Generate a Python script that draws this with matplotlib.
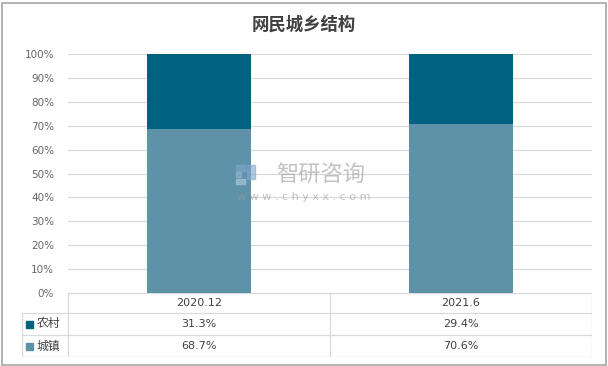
import numpy as np
import matplotlib
matplotlib.use('Agg')
import matplotlib.pyplot as plt
from matplotlib.patches import Rectangle

plt.rcParams['font.family'] = ['Noto Sans CJK SC', 'DejaVu Sans']

# data
categories = ['2020.12', '2021.6']
rural = [31.3, 29.4]     # 农村
urban = [68.7, 70.6]     # 城镇
series_names = ['农村', '城镇']
c_rural = '#00627F'
c_urban = '#5E92A9'
grid_c = '#D9D9D9'

W, H = 608, 366
fig = plt.figure(figsize=(W / 100, H / 100), dpi=100)

# outer border
fig.add_artist(Rectangle((1.5 / W, 1.5 / H), (W - 4) / W, (H - 4) / H, transform=fig.transFigure,
                         fill=False, ec='#A6A6A6', lw=1.2))

fig.text(0.5, 1 - 25 / H, '网民城乡结构', ha='center', va='center', fontsize=12.5,
         fontweight='bold', color='#404040')

# plot area
x0, x1, ytop, ybot = 68, 592, 54, 293
ax = fig.add_axes([x0 / W, (H - ybot) / H, (x1 - x0) / W, (ybot - ytop) / H])
x = np.arange(len(categories))
ax.bar(x, urban, width=0.395, color=c_urban, zorder=2)
ax.bar(x, rural, width=0.395, bottom=urban, color=c_rural, zorder=2)
ax.set_xlim(-0.5, len(categories) - 0.5)
ax.set_ylim(0, 100)
ax.set_yticks(np.arange(0, 101, 10))
ax.set_yticklabels([f'{v}%' for v in range(0, 101, 10)], fontsize=7.5, color='#666666',
                   family=['DejaVu Sans'])
ax.tick_params(axis='y', length=0, pad=10)
ax.set_xticks([])
for s in ax.spines.values():
    s.set_visible(False)
ax.yaxis.grid(True, color=grid_c, lw=0.9, zorder=0)

# watermark
fig.text(321 / W, 1 - 175 / H, '智研咨询', ha='center', va='center', fontsize=16,
         color='#9A9A9A', alpha=0.6)
fig.text(304 / W, 1 - 197 / H, 'w w w . c h y x x . c o m', ha='center', va='center', fontsize=8,
         color='#9A9A9A', alpha=0.6, family=['DejaVu Sans'])
for (bx, by, bw, bh, bc) in [(236, 165, 9, 6, '#7FA7C9'), (236, 172, 5, 5, '#9AB8D3'),
                             (247, 165, 8, 14, '#7FA7C9'), (236, 179, 9, 5, '#B5C9DA')]:
    fig.add_artist(Rectangle((bx / W, 1 - (by + bh) / H), bw / W, bh / H,
                             transform=fig.transFigure, color=bc, alpha=0.6))

# data table below
tx0, tx1, ty0, ty1 = 22, 592, 293, 357
tab = fig.add_axes([tx0 / W, (H - ty1) / H, (tx1 - tx0) / W, (ty1 - ty0) / H])
tab.set_xlim(tx0, tx1)
tab.set_ylim(ty1, ty0)
tab.axis('off')
rows_y = [293, 313, 335, 357]
col_x = [x0, (x0 + x1) / 2, x1]
lc = '#D9D9D9'
tab.plot([x0, x0], [293, 357], color=lc, lw=0.9)
tab.plot([col_x[1], col_x[1]], [293, 357], color=lc, lw=0.9)
tab.plot([x1, x1], [293, 357], color=lc, lw=0.9)
tab.plot([tx0, tx0], [313, 357], color=lc, lw=0.9)
tab.plot([x0, x1], [293, 293], color=lc, lw=0.9)
for yy in rows_y[1:]:
    tab.plot([tx0, x1], [yy, yy], color=lc, lw=0.9)
for i, c in enumerate(categories):
    cx = (col_x[i] + col_x[i + 1]) / 2
    tab.text(cx, 303, c, ha='center', va='center', fontsize=8, color='#404040',
             family=['DejaVu Sans'])
    tab.text(cx, 324, f'{rural[i]}%', ha='center', va='center', fontsize=8, color='#404040',
             family=['DejaVu Sans'])
    tab.text(cx, 346, f'{urban[i]}%', ha='center', va='center', fontsize=8, color='#404040',
             family=['DejaVu Sans'])
for yc, name, col in [(324, series_names[0], c_rural), (346, series_names[1], c_urban)]:
    tab.add_patch(Rectangle((26, yc - 3.5), 7, 7, color=col))
    tab.text(37, yc, name, ha='left', va='center', fontsize=8.5, color='#404040')

fig.savefig('out.png', dpi=100)
